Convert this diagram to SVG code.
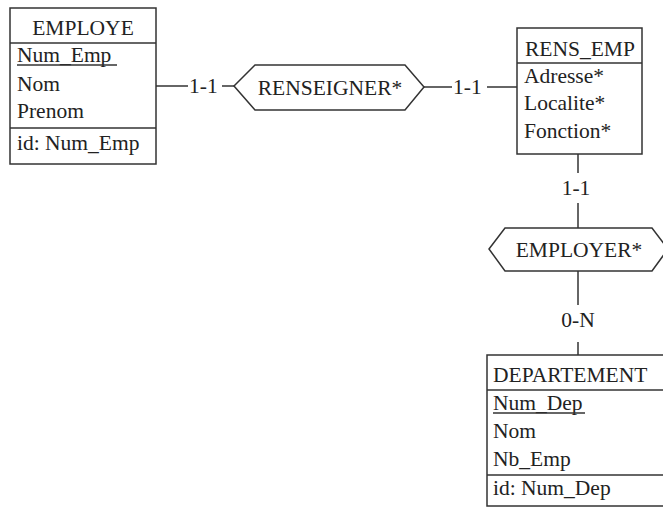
<svg xmlns="http://www.w3.org/2000/svg" width="663" height="509" viewBox="0 0 663 509">
<style>
.box{fill:#fff;stroke:#333;stroke-width:1.5}
.sep{stroke:#333;stroke-width:1.5}
.ln{stroke:#333;stroke-width:1.5;fill:none}
.t{font-family:"Liberation Serif","Times New Roman",serif;font-size:21.5px;fill:#222}
.c{text-anchor:middle}
</style>
<rect width="663" height="509" fill="#fff"/>
<g id="connectors">
<line class="ln" x1="156" y1="86" x2="188" y2="86"/>
<text class="t" x="189" y="93">1-1</text>
<line class="ln" x1="222" y1="86" x2="234" y2="86"/>
<line class="ln" x1="424" y1="87" x2="452" y2="87"/>
<text class="t" x="453" y="94">1-1</text>
<line class="ln" x1="487" y1="87" x2="517" y2="87"/>
<line class="ln" x1="578" y1="154" x2="578" y2="173"/>
<text class="t c" x="576" y="195">1-1</text>
<line class="ln" x1="578" y1="203" x2="578" y2="228"/>
<line class="ln" x1="578" y1="271" x2="578" y2="305"/>
<text class="t c" x="578" y="327">0-N</text>
<line class="ln" x1="578" y1="342" x2="578" y2="355"/>
</g>
<g id="employe">
<rect class="box" x="10" y="8" width="146" height="156"/>
<line class="sep" x1="10" y1="43" x2="156" y2="43"/>
<line class="sep" x1="10" y1="128" x2="156" y2="128"/>
<text class="t c" x="83" y="35">EMPLOYE</text>
<text class="t" x="17" y="62">Num_Emp</text>
<line class="sep" x1="17" y1="65" x2="117" y2="65" stroke-width="1.2"/>
<text class="t" x="17" y="91">Nom</text>
<text class="t" x="17" y="118">Prenom</text>
<text class="t" x="17" y="150">id: Num_Emp</text>
</g>
<g id="renseigner">
<polygon class="box" points="234,86 255,65 405,65 424,87 405,110 255,110"/>
<text class="t c" x="330" y="95">RENSEIGNER*</text>
</g>
<g id="rens_emp">
<rect class="box" x="517" y="28" width="125" height="126"/>
<line class="sep" x1="517" y1="63" x2="642" y2="63"/>
<text class="t c" x="580" y="56">RENS_EMP</text>
<text class="t" x="524" y="83">Adresse*</text>
<text class="t" x="524" y="110">Localite*</text>
<text class="t" x="524" y="138">Fonction*</text>
</g>
<g id="employer">
<polygon class="box" points="489,249 505,228 652,228 668,249 652,271 505,271"/>
<text class="t c" x="579" y="257">EMPLOYER*</text>
</g>
<g id="departement">
<rect class="box" x="487" y="355" width="190" height="151"/>
<line class="sep" x1="487" y1="390" x2="677" y2="390"/>
<line class="sep" x1="487" y1="475" x2="677" y2="475"/>
<text class="t" x="493" y="382">DEPARTEMENT</text>
<text class="t" x="493" y="410">Num_Dep</text>
<line class="sep" x1="493" y1="413" x2="585" y2="413" stroke-width="1.2"/>
<text class="t" x="493" y="438">Nom</text>
<text class="t" x="493" y="466">Nb_Emp</text>
<text class="t" x="493" y="495">id: Num_Dep</text>
</g>
</svg>
